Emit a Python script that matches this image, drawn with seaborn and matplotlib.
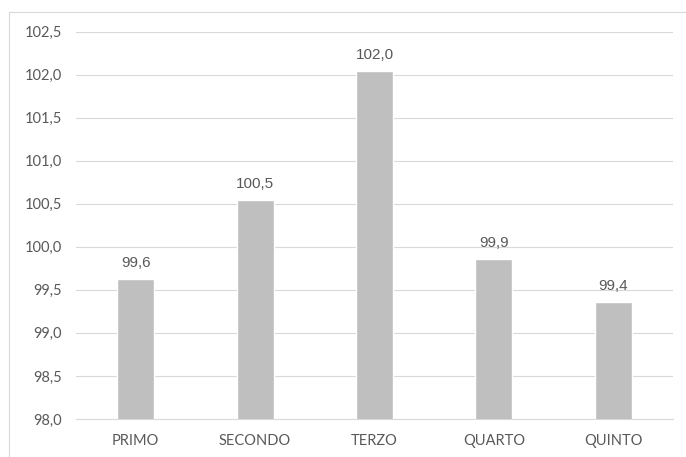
#-------------------------------------------
# Bar chart of index values by quintile
#-------------------------------------------

import pandas as pd
import numpy as np
import matplotlib.pyplot as plt
import seaborn as sns
from matplotlib.patches import Rectangle

# Data

categories = ["PRIMO", "SECONDO", "TERZO", "QUARTO", "QUINTO"]
values = [99.63, 100.54, 102.04, 99.86, 99.36]
y_ticks = [98.0, 98.5, 99.0, 99.5, 100.0, 100.5, 101.0, 101.5, 102.0, 102.5]

df = pd.DataFrame({"categoria": categories, "valore": values})

#-----------------------STYLE----------------------------------

sns.set_theme(style="white")
plt.rcParams['font.family'] = ['Lato', 'DejaVu Sans']

text_col = "#595959"
grid_col = "#D9D9D9"
bar_col = "#BFBFBF"

#-----------------------PLOTTING-------------------------------

fig = plt.figure(figsize=(6.86, 4.57), dpi=100)
ax = fig.add_axes([76 / 686, 1 - 419 / 457, 597 / 686, (419 - 31.5) / 457])

sns.barplot(data=df, x="categoria", y="valore", color=bar_col, saturation=1,
            width=0.31, ax=ax, zorder=3)

ax.set_ylim(98.0, 102.5)
ax.set_xlim(-0.5, 4.5)
ax.set_yticks(y_ticks)
ax.set_yticklabels([f"{t:.1f}".replace(".", ",") for t in y_ticks])
ax.set_xlabel("")
ax.set_ylabel("")

ax.yaxis.grid(True, color=grid_col, linewidth=0.8, zorder=0)
ax.set_axisbelow(True)
for s in ["top", "right", "left"]:
    ax.spines[s].set_visible(False)
ax.spines["bottom"].set_color(grid_col)
ax.spines["bottom"].set_linewidth(0.8)

ax.tick_params(axis="y", length=0, pad=10, labelsize=10.5, labelcolor=text_col)
ax.tick_params(axis="x", length=0, pad=11, labelsize=10.5, labelcolor=text_col)

# Data labels with comma decimals
for i, v in enumerate(values):
    ax.annotate(f"{v:.1f}".replace(".", ","), xy=(i, v), xytext=(0, 8.5),
                textcoords="offset points", ha="center", va="baseline",
                fontsize=11, color=text_col,
                family=['Liberation Sans Narrow', 'Liberation Sans', 'DejaVu Sans'])

# Chart area border
fig.patches.append(Rectangle((9 / 686, -0.1), 1.2, 1.1 - 12 / 457, fill=False,
                             edgecolor=grid_col, linewidth=0.8,
                             transform=fig.transFigure, figure=fig))

plt.savefig("out.png", dpi=100)
